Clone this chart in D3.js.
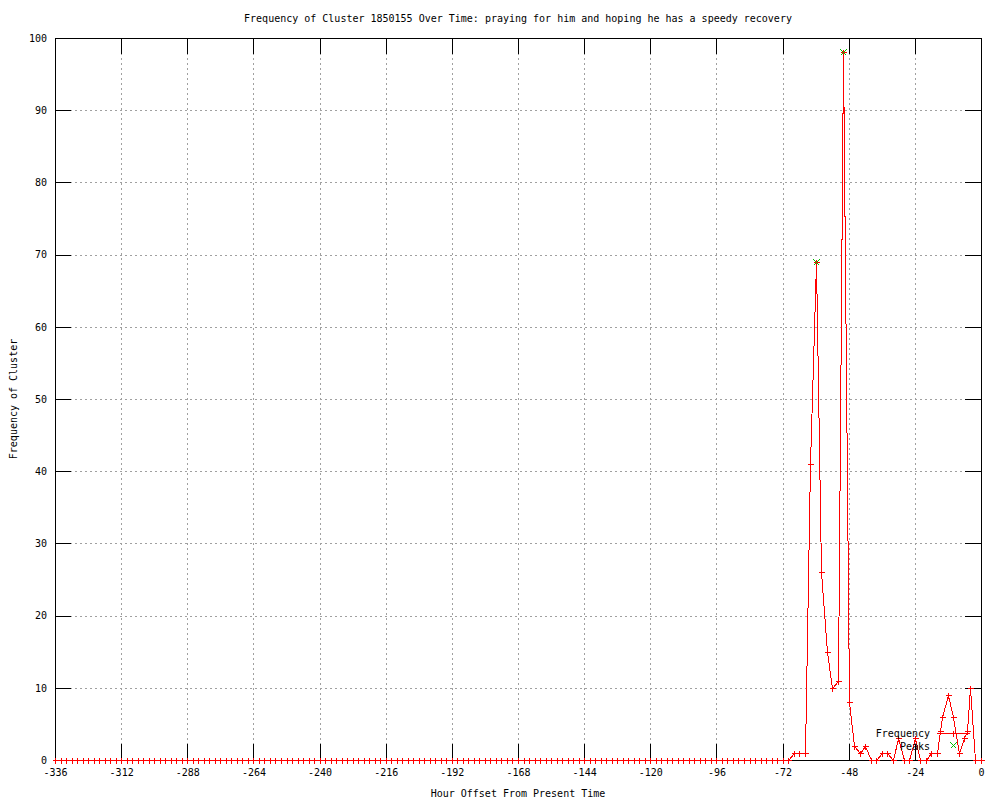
<!DOCTYPE html>
<html>
<head>
<meta charset="utf-8">
<script src="https://cdn.jsdelivr.net/npm/d3@7"></script>
<style>
  html, body { margin: 0; padding: 0; background: #fff; }
  svg { display: block; }
  text { font-family: "DejaVu Sans Mono", "Liberation Mono", monospace; font-size: 10px; fill: #000; }
</style>
</head>
<body>
<svg id="chart" width="1000" height="800"></svg>
<script>
// ---- data ----
const title = "Frequency of Cluster 1850155 Over Time: praying for him and hoping he has a speedy recovery";
const xLabel = "Hour Offset From Present Time";
const yLabel = "Frequency of Cluster";
const seriesNames = ["Frequency", "Peaks"];

const hours = [
  -336,-334,-332,-330,-328,-326,-324,-322,-320,-318,-316,-314,-312,-310,-308,-306,-304,-302,-300,-298,
  -296,-294,-292,-290,-288,-286,-284,-282,-280,-278,-276,-274,-272,-270,-268,-266,-264,-262,-260,-258,
  -256,-254,-252,-250,-248,-246,-244,-242,-240,-238,-236,-234,-232,-230,-228,-226,-224,-222,-220,-218,
  -216,-214,-212,-210,-208,-206,-204,-202,-200,-198,-196,-194,-192,-190,-188,-186,-184,-182,-180,-178,
  -176,-174,-172,-170,-168,-166,-164,-162,-160,-158,-156,-154,-152,-150,-148,-146,-144,-142,-140,-138,
  -136,-134,-132,-130,-128,-126,-124,-122,-120,-118,-116,-114,-112,-110,-108,-106,-104,-102,-100,-98,
  -96,-94,-92,-90,-88,-86,-84,-82,-80,-78,-76,-74,-72,-70,
  -68,-66,-64,-62,-60,-58,-56,-54,-52,-50,-48,-46,-44,-42,-40,-38,-36,-34,-32,-30,
  -28,-26,-24,-22,-20,-18,-16,-15,-14,-12,-10,-8,-6,-5,-4,-2,0
];
const frequency = [
  0,0,0,0,0,0,0,0,0,0,0,0,0,0,0,0,0,0,0,0,
  0,0,0,0,0,0,0,0,0,0,0,0,0,0,0,0,0,0,0,0,
  0,0,0,0,0,0,0,0,0,0,0,0,0,0,0,0,0,0,0,0,
  0,0,0,0,0,0,0,0,0,0,0,0,0,0,0,0,0,0,0,0,
  0,0,0,0,0,0,0,0,0,0,0,0,0,0,0,0,0,0,0,0,
  0,0,0,0,0,0,0,0,0,0,0,0,0,0,0,0,0,0,0,0,
  0,0,0,0,0,0,0,0,0,0,0,0,0,0,
  1,1,1,41,69,26,15,10,11,98,8,2,1,2,0,0,1,1,0,3,
  0,0,3,0,0,1,1,4,6,9,6,1,3,4,10,0,0
];
const peakHours = [-60, -50];
const peakValues = [69, 98];

const xTicks = [-336,-312,-288,-264,-240,-216,-192,-168,-144,-120,-96,-72,-48,-24,0];
const yTicks = [0,10,20,30,40,50,60,70,80,90,100];

// ---- layout ----
const L = 55, R = 981, T = 38, B = 760;
const svg = d3.select("#chart");
const x = d3.scaleLinear().domain([-336, 0]).range([L, R]);
const y = d3.scaleLinear().domain([0, 100]).range([B, T]);
const px = v => Math.round(x(v)) + 0.5;
const py = v => Math.round(y(v)) + 0.5;

// grid
const grid = svg.append("g").attr("stroke", "#a0a0a0").attr("stroke-width", 1)
  .attr("stroke-dasharray", "2,3").attr("shape-rendering", "crispEdges");
grid.selectAll("line.gx").data(xTicks).join("line").attr("class", "gx")
  .attr("x1", d => px(d)).attr("x2", d => px(d)).attr("y1", T).attr("y2", B);
grid.selectAll("line.gy").data(yTicks).join("line").attr("class", "gy")
  .attr("y1", d => py(d)).attr("y2", d => py(d)).attr("x1", L).attr("x2", R);

// axes (inward ticks, mirrored)
function styleAxis(g) {
  g.select(".domain").remove();
  g.selectAll(".tick line").attr("stroke", "#000").attr("shape-rendering", "crispEdges");
  g.selectAll(".tick text").attr("fill", "#000").style("font-size", "10px")
    .style("font-family", '"DejaVu Sans Mono", "Liberation Mono", monospace');
}
const xs = d3.scaleLinear().domain([-336, 0]).range([Math.round(L)+0.5, Math.round(R)+0.5]);
const ys = d3.scaleLinear().domain([0, 100]).range([Math.round(B)+0.5, Math.round(T)+0.5]);

svg.append("g").attr("transform", `translate(0,${B})`)
  .call(d3.axisBottom(xs).tickValues(xTicks).tickSize(-16).tickPadding(9).tickFormat(d => String(d)).offset(0))
  .call(styleAxis);
svg.append("g").attr("transform", `translate(0,${T})`)
  .call(d3.axisTop(xs).tickValues(xTicks).tickSize(-16).tickFormat("").offset(0))
  .call(styleAxis);
svg.append("g").attr("transform", `translate(${L},0)`)
  .call(d3.axisLeft(ys).tickValues(yTicks).tickSize(-16).tickPadding(8).tickFormat(d => String(d)).offset(0))
  .call(styleAxis);
svg.append("g").attr("transform", `translate(${R},0)`)
  .call(d3.axisRight(ys).tickValues(yTicks).tickSize(-16).tickFormat("").offset(0))
  .call(styleAxis);

// border
svg.append("rect").attr("x", L + 0.5).attr("y", T + 0.5).attr("width", R - L).attr("height", B - T)
  .attr("fill", "none").attr("stroke", "#000").attr("shape-rendering", "crispEdges");

// frequency line + points
const pts = hours.map((h, i) => [h, frequency[i]]);
const line = d3.line().x(d => px(d[0])).y(d => py(d[1]));
svg.append("path").datum(pts).attr("d", line).attr("fill", "none")
  .attr("stroke", "#ff0000").attr("stroke-width", 1).attr("shape-rendering", "crispEdges");
const plus = (cx, cy, s) => `M${cx - s},${cy}H${cx + s}M${cx},${cy - s}V${cy + s}`;
const cross = (cx, cy, s) => `M${cx - s},${cy - s}L${cx + s},${cy + s}M${cx - s},${cy + s}L${cx + s},${cy - s}`;
svg.append("path")
  .attr("d", pts.map(d => plus(px(d[0]), py(d[1]), 3)).join(""))
  .attr("stroke", "#ff0000").attr("stroke-width", 1).attr("fill", "none").attr("shape-rendering", "crispEdges");

// peaks
svg.append("path")
  .attr("d", peakHours.map((h, i) => cross(px(h), py(peakValues[i]), 3)).join(""))
  .attr("stroke", "#00c000").attr("stroke-width", 1).attr("fill", "none").attr("shape-rendering", "crispEdges");

// legend
const lg = svg.append("g");
lg.append("text").attr("x", 930).attr("y", 733).attr("dy", "0.35em").attr("text-anchor", "end").text(seriesNames[0]);
lg.append("text").attr("x", 930).attr("y", 746).attr("dy", "0.35em").attr("text-anchor", "end").text(seriesNames[1]);
lg.append("path").attr("d", `M937,733.5H970` + plus(953.5, 733.5, 3))
  .attr("stroke", "#ff0000").attr("fill", "none").attr("shape-rendering", "crispEdges");
lg.append("path").attr("d", cross(953.5, 745.5, 3))
  .attr("stroke", "#00c000").attr("fill", "none").attr("shape-rendering", "crispEdges");

// titles
svg.append("text").attr("x", 518).attr("y", 18).attr("dy", "0.35em").attr("text-anchor", "middle").text(title);
svg.append("text").attr("x", 518).attr("y", 793).attr("dy", "0.35em").attr("text-anchor", "middle").text(xLabel);
svg.append("text").attr("transform", "translate(13,399) rotate(-90)").attr("dy", "0.35em")
  .attr("text-anchor", "middle").text(yLabel);
</script>
</body>
</html>
